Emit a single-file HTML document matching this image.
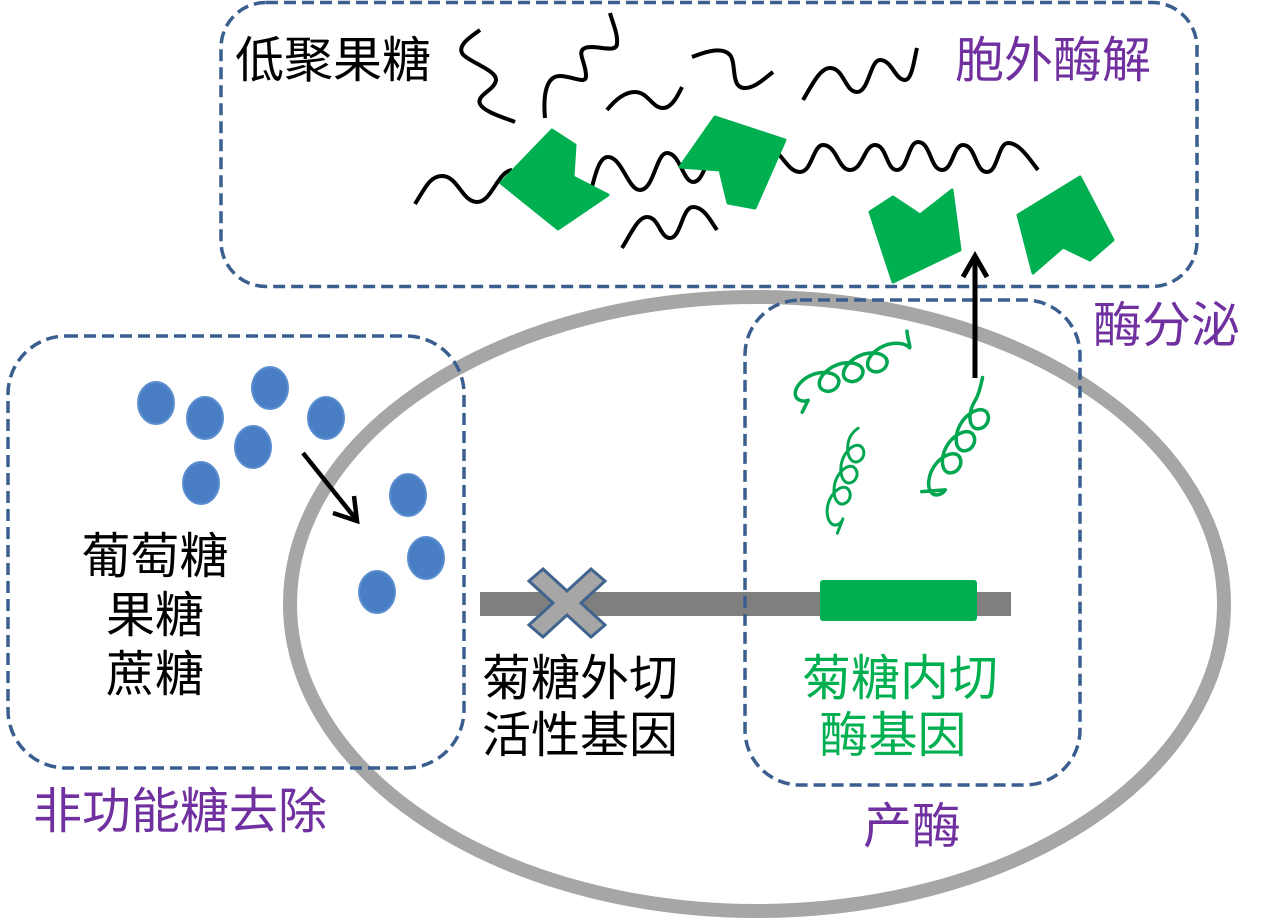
<!DOCTYPE html>
<html><head><meta charset="utf-8"><style>
html,body{margin:0;padding:0;background:#fff;}
svg{display:block;}
text{font-family:"Liberation Sans","Noto Sans CJK SC",sans-serif;font-size:49px;}
</style></head><body>
<svg width="1275" height="923" viewBox="0 0 1275 923" xmlns="http://www.w3.org/2000/svg">
<!-- cell ring -->
<ellipse cx="757" cy="604" rx="467" ry="307" fill="none" stroke="#A6A6A6" stroke-width="14"/>
<!-- gene bar -->
<rect x="480" y="592" width="531" height="24" fill="#7F7F7F"/>
<rect x="820" y="580" width="157" height="41" rx="3" fill="#00B050"/>
<!-- X mark -->
<path transform="translate(567,603)" d="M-38,-22 L-24,-34 L0,-12 L24,-34 L38,-22 L14,0 L38,22 L24,34 L0,12 L-24,34 L-38,22 L-14,0 Z" fill="#A6A6A6" stroke="#41648F" stroke-width="3" stroke-linejoin="miter"/>
<!-- blue dots -->
<g fill="#4A7EC4" stroke="#5B8ED0" stroke-width="2">
<ellipse cx="156" cy="403" rx="18" ry="21"/>
<ellipse cx="205" cy="418" rx="18" ry="21"/>
<ellipse cx="270" cy="388" rx="18" ry="21"/>
<ellipse cx="253" cy="447" rx="18" ry="21"/>
<ellipse cx="326" cy="418" rx="18" ry="21"/>
<ellipse cx="201" cy="483" rx="18" ry="21"/>
<ellipse cx="408" cy="495" rx="18" ry="21"/>
<ellipse cx="426" cy="558" rx="18" ry="21"/>
<ellipse cx="377" cy="592" rx="18" ry="21"/>
</g>
<!-- black waves -->
<g fill="none" stroke="#000" stroke-width="4" stroke-linecap="butt">
<path d="M480,30 C470,37 458,45 462,53 C466,61 497,70 496,80 C495,90 476,95 480,104 C484,112 505,118 515,122"/>
<path d="M545,118 C543,95 546,76 560,76 C572,76 586,85 586,76 C586,62 576,52 585,48 C595,44 616,54 617,44 C618,34 613,24 610,13"/>
<path d="M607,110 C615,100 625,92 635,92 C648,92 652,108 663,108 C672,108 678,95 682,87"/>
<path d="M692,57 C705,52 722,46 730,55 C737,64 730,88 745,88 C755,88 765,78 773,72"/>
<path d="M803,100 C812,85 820,68 830,68 C844,68 845,92 857,92 C869,92 870,60 880,60 C892,60 895,80 905,80 C912,80 914,60 917,48"/>
<path d="M415,204 C425,188 430,176 442,176 C458,176 462,202 477,202 C492,202 497,172 512,170"/>
<path d="M590,195 C596,170 600,157 608,157 C622,157 628,190 640,190 C654,190 656,153 667,153 C680,153 683,182 693,182 C700,182 703,172 706,166"/>
<path d="M775,150 C785,160 790,172 800,172 C812,172 813,145 823,145 C837,145 838,170 850,170 C863,170 864,145 875,145 C887,145 886,170 897,170 C908,170 908,142 918,142 C931,142 930,170 942,170 C953,170 953,145 963,145 C976,145 975,172 987,172 C998,172 998,143 1008,143 C1020,143 1030,160 1038,170"/>
<path d="M622,248 C632,232 638,217 647,217 C659,217 660,238 670,238 C681,238 682,207 693,207 C704,207 710,220 717,230"/>
</g>
<!-- green enzymes -->
<g fill="#00B050" stroke="#00B050" stroke-width="3" stroke-linejoin="round">
<polygon points="552,130 575,145 573,177 608,195 558,229 501,183"/>
<polygon points="715,117 785,140 755,208 728,203 720,170 680,167"/>
<polygon points="870,212 893,197 920,215 952,190 960,250 893,282"/>
<polygon points="1018,215 1080,177 1113,240 1090,260 1063,247 1033,273"/>
</g>
<!-- green coils -->
<g fill="none" stroke="#00A650" stroke-width="3.5" stroke-linecap="round" stroke-linejoin="round">
<path transform="translate(804,390) rotate(-22)" d="M-10,20 L0,11 c-6.2,0 -11.7,-5.2 -9.5,-11 c2.2,-5.8 12,-11 22.5,-11 c10.5,0 20.3,5.2 22.5,11 c2.2,5.8 -3.3,11 -9.5,11 c-6.2,0 -11.7,-5.2 -9.5,-11 c2.2,-5.8 12,-11 22.5,-11 c10.5,0 20.3,5.2 22.5,11 c2.2,5.8 -3.3,11 -9.5,11 c-6.2,0 -11.7,-5.2 -9.5,-11 c2.2,-5.8 12,-11 22.5,-11 c10.5,0 20.3,5.2 22.5,11 c2.2,5.8 -3.3,11 -9.5,11 c-6.2,0 -11.7,-5.2 -9.5,-11 c2.2,-5.8 12,-11 22.5,-11 c10.5,0 20.3,5.2 22.5,11 c1,3 2,-10 4,-16"/>
<path transform="translate(834,516) rotate(-72) scale(0.85)" d="M-18,10 L0,11 c-6.2,0 -11.7,-5.2 -9.5,-11 c2.2,-5.8 12,-11 22.5,-11 c10.5,0 20.3,5.2 22.5,11 c2.2,5.8 -3.3,11 -9.5,11 c-6.2,0 -11.7,-5.2 -9.5,-11 c2.2,-5.8 12,-11 22.5,-11 c10.5,0 20.3,5.2 22.5,11 c2.2,5.8 -3.3,11 -9.5,11 c-6.2,0 -11.7,-5.2 -9.5,-11 c2.2,-5.8 12,-11 22.5,-11 c10.5,0 20.3,5.2 22.5,11 c2.2,5.8 -3.3,11 -9.5,11 c-6.2,0 -11.7,-5.2 -9.5,-11 c2.2,-5.8 12,-11 22.5,-11 c6,0 12,3 16,6"/>
<path transform="translate(936,484) rotate(-58)" d="M-14,-8 L0,11 c-6.2,0 -11.7,-5.2 -9.5,-11 c2.2,-5.8 12,-11 22.5,-11 c10.5,0 20.3,5.2 22.5,11 c2.2,5.8 -3.3,11 -9.5,11 c-6.2,0 -11.7,-5.2 -9.5,-11 c2.2,-5.8 12,-11 22.5,-11 c10.5,0 20.3,5.2 22.5,11 c2.2,5.8 -3.3,11 -9.5,11 c-6.2,0 -11.7,-5.2 -9.5,-11 c2.2,-5.8 12,-11 22.5,-11 c10.5,0 20.3,5.2 22.5,11 c2.2,5.8 -3.3,11 -9.5,11 c-6.2,0 -11.7,-5.2 -9.5,-11 c2.2,-5.8 12,-11 22.5,-11 c6,0 16,-3 24,-6"/>
</g>
<!-- dashed boxes -->
<g fill="none" stroke="#3A5F8F" stroke-width="3.5" stroke-dasharray="12 6">
<rect x="221" y="2.5" width="976" height="284" rx="45" ry="45"/>
<rect x="8" y="336" width="456" height="432" rx="58" ry="58"/>
<rect x="745" y="300" width="335" height="485" rx="55" ry="55"/>
</g>
<!-- arrows -->
<g fill="none" stroke="#000" stroke-linecap="butt" stroke-linejoin="miter">
<line x1="303" y1="453" x2="355" y2="518" stroke-width="4.5"/>
<polyline points="333,513 357,521 354,496" stroke-width="4.5"/>
<line x1="975" y1="378" x2="975" y2="256" stroke-width="5"/>
<polyline points="963,277 975,256 987,277" stroke-width="5"/>
</g>
<!-- labels -->
<text x="235" y="77" fill="#000">低聚果糖</text>
<text x="955" y="77" fill="#7030A0">胞外酶解</text>
<text x="1093" y="342" fill="#7030A0">酶分泌</text>
<text x="155" y="573" fill="#000" text-anchor="middle">葡萄糖</text>
<text x="155" y="632" fill="#000" text-anchor="middle">果糖</text>
<text x="155" y="691" fill="#000" text-anchor="middle">蔗糖</text>
<text x="33" y="828" fill="#7030A0">非功能糖去除</text>
<text x="580" y="695" fill="#000" text-anchor="middle">菊糖外切</text>
<text x="580" y="752" fill="#000" text-anchor="middle">活性基因</text>
<text x="900" y="695" fill="#00B050" text-anchor="middle">菊糖内切</text>
<text x="893" y="752" fill="#00B050" text-anchor="middle">酶基因</text>
<text x="912" y="843" fill="#7030A0" text-anchor="middle">产酶</text>
</svg>
</body></html>
